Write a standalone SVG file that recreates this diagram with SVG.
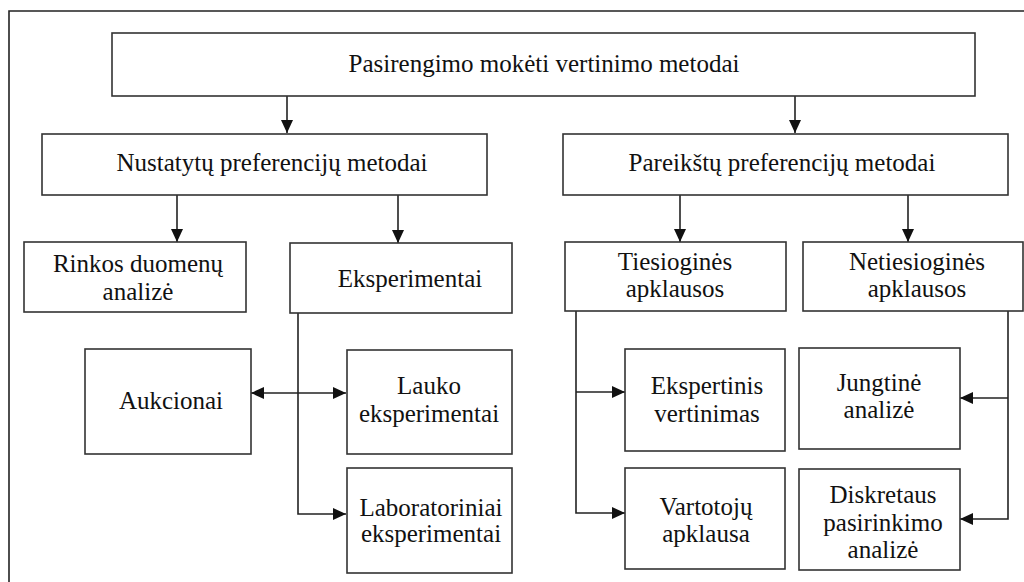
<svg xmlns="http://www.w3.org/2000/svg" width="1024" height="582" viewBox="0 0 1024 582">
<style>
.box{fill:#fff;stroke:#333;stroke-width:1.6}
.t{font-family:"Liberation Serif","Times New Roman",serif;font-size:25px;fill:#111;text-anchor:middle}
.c{fill:none;stroke:#222;stroke-width:1.6}
.frame{fill:none;stroke:#222;stroke-width:1.6}
</style>
<defs>
<marker id="ah" viewBox="0 0 13 12" markerWidth="13" markerHeight="12" refX="13" refY="6" orient="auto-start-reverse" markerUnits="userSpaceOnUse">
<path d="M0,0 L13,6 L0,12 z" fill="#111"/>
</marker>
</defs>
<rect width="1024" height="582" fill="#fff"/>
<path class="frame" d="M9,582 V11 H1024"/>
<g id="connectors">
<path class="c" d="M287,96 V133" marker-end="url(#ah)"/>
<path class="c" d="M795,96 V133" marker-end="url(#ah)"/>
<path class="c" d="M177,195 V242" marker-end="url(#ah)"/>
<path class="c" d="M398,195 V243" marker-end="url(#ah)"/>
<path class="c" d="M680,195 V242" marker-end="url(#ah)"/>
<path class="c" d="M908,195 V242" marker-end="url(#ah)"/>
<path class="c" d="M298,313 V514 H346" marker-end="url(#ah)"/>
<path class="c" d="M251,393 H346" marker-start="url(#ah)" marker-end="url(#ah)"/>
<path class="c" d="M576,311 V513 H625" marker-end="url(#ah)"/>
<path class="c" d="M576,392 H625" marker-end="url(#ah)"/>
<path class="c" d="M1008,311 V519 H960" marker-end="url(#ah)"/>
<path class="c" d="M1008,398 H960" marker-end="url(#ah)"/>
</g>
<g id="n-top"><rect class="box" x="112" y="33" width="863" height="63"/><text class="t" x="544" y="72">Pasirengimo mokėti vertinimo metodai</text></g>
<g id="n-nustatytu"><rect class="box" x="42" y="134" width="445" height="61"/><text class="t" x="272" y="171">Nustatytų preferencijų metodai</text></g>
<g id="n-pareikstu"><rect class="box" x="563" y="134" width="445" height="61"/><text class="t" x="782" y="171">Pareikštų preferencijų metodai</text></g>
<g id="n-rinkos"><rect class="box" x="24" y="242" width="222" height="70"/><text class="t" x="138" y="272">Rinkos duomenų</text><text class="t" x="138" y="300">analizė</text></g>
<g id="n-eksperimentai"><rect class="box" x="290" y="243" width="222" height="70"/><text class="t" x="410" y="287">Eksperimentai</text></g>
<g id="n-tiesiogines"><rect class="box" x="565" y="242" width="221" height="69"/><text class="t" x="675" y="270">Tiesioginės</text><text class="t" x="675" y="297">apklausos</text></g>
<g id="n-netiesiogines"><rect class="box" x="803" y="242" width="220" height="69"/><text class="t" x="917" y="270">Netiesioginės</text><text class="t" x="917" y="297">apklausos</text></g>
<g id="n-aukcionai"><rect class="box" x="85" y="349" width="166" height="105"/><text class="t" x="171" y="409">Aukcionai</text></g>
<g id="n-lauko"><rect class="box" x="347" y="350" width="165" height="104"/><text class="t" x="429" y="394">Lauko</text><text class="t" x="429" y="422">eksperimentai</text></g>
<g id="n-laboratoriniai"><rect class="box" x="347" y="468" width="165" height="105"/><text class="t" x="431" y="516">Laboratoriniai</text><text class="t" x="431" y="542">eksperimentai</text></g>
<g id="n-ekspertinis"><rect class="box" x="625" y="349" width="160" height="102"/><text class="t" x="707" y="394">Ekspertinis</text><text class="t" x="707" y="422">vertinimas</text></g>
<g id="n-vartotoju"><rect class="box" x="625" y="468" width="160" height="101"/><text class="t" x="706" y="515">Vartotojų</text><text class="t" x="706" y="542">apklausa</text></g>
<g id="n-jungtine"><rect class="box" x="799" y="348" width="161" height="101"/><text class="t" x="879" y="391">Jungtinė</text><text class="t" x="879" y="418">analizė</text></g>
<g id="n-diskretaus"><rect class="box" x="799" y="469" width="161" height="101"/><text class="t" x="883" y="503">Diskretaus</text><text class="t" x="883" y="531">pasirinkimo</text><text class="t" x="883" y="558">analizė</text></g>
</svg>
